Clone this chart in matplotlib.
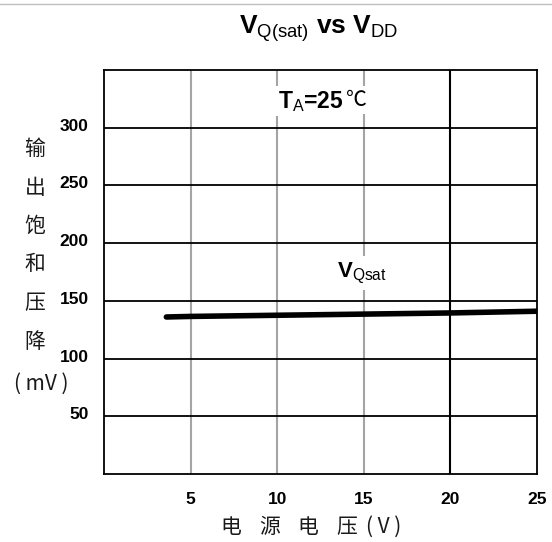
import matplotlib
import matplotlib.pyplot as plt
import matplotlib.transforms as mtransforms
from matplotlib.lines import Line2D

matplotlib.use('Agg')

plt.rcParams['font.family'] = ['Liberation Sans', 'Noto Sans CJK SC', 'DejaVu Sans']
plt.rcParams['mathtext.fontset'] = 'custom'
plt.rcParams['mathtext.rm'] = 'Liberation Sans'
plt.rcParams['mathtext.bf'] = 'Liberation Sans:bold'
plt.rcParams['mathtext.it'] = 'Liberation Sans:italic'

# supply voltage (V) vs output saturation drop (mV)
vdd = [3.6, 5, 10, 15, 20, 25]
vq_sat = [136, 136.5, 137.5, 138.5, 139.5, 141]

x_ticks = [5, 10, 15, 20, 25]
y_ticks = [50, 100, 150, 200, 250, 300]
y_label_chars = ['输', '出', '饱', '和', '压', '降']
x_label_chars = ['电', '源', '电', '压']

fig = plt.figure(figsize=(5.52, 5.42), dpi=100)
ax = fig.add_axes([0.1884, 0.1255, 0.7844, 0.7454])
ax.set_xlim(0, 25)
ax.set_ylim(0, 350)

# grid: grey verticals, black horizontals
for xv in x_ticks[:-1]:
    col = 'black' if xv == 20 else '#a4a4a4'
    ax.axvline(xv, color=col, lw=1.5, zorder=1)
for yv in y_ticks:
    ax.axhline(yv, color='black', lw=1.3, zorder=1)

ax.plot(vdd, vq_sat, color='black', lw=4, solid_capstyle='round', zorder=3)

ax.set_xticks(x_ticks)
ax.set_yticks(y_ticks)
ax.set_xticklabels([str(v) for v in x_ticks], fontweight='bold', fontsize=12.5)
ax.set_yticklabels([str(v) for v in y_ticks], fontweight='bold', fontsize=12.5)
ax.tick_params(axis='x', length=0, pad=13)
ax.tick_params(axis='y', length=0, pad=11)
# y labels sit a touch above their grid lines
lift = mtransforms.ScaledTranslation(0, 3 / 100, fig.dpi_scale_trans)
for lbl in ax.get_yticklabels():
    lbl.set_transform(lbl.get_transform() + lift)
for sp in ax.spines.values():
    sp.set_linewidth(1.3)

ax.text(14.6, 324, '℃', family=['Noto Sans CJK SC', 'DejaVu Sans'], fontsize=15,
        ha='center', va='center', zorder=4,
        bbox=dict(facecolor='white', edgecolor='none', pad=2))
ax.text(10.05, 323, r'$\mathbf{T}_{\mathrm{A}}$=25', fontsize=16.5, fontweight='bold',
        ha='left', va='center', zorder=5,
        bbox=dict(facecolor='white', edgecolor='none', pad=2))
ax.text(14.9, 174, r'$\mathbf{V}_{\mathrm{Qsat}}$', fontsize=16,
        ha='center', va='center', zorder=4,
        bbox=dict(facecolor='white', edgecolor='none', pad=3))

fig.text(0.577, 0.948, r'$\mathbf{V}_{\mathrm{Q(sat)}}\ \mathbf{vs}\ \mathbf{V}_{\mathrm{DD}}$',
         fontsize=19, ha='center', va='center')

cjk = ['Noto Sans CJK SC', 'DejaVu Sans']
for i, ch in enumerate(y_label_chars):
    fig.text(35 / 552, 1 - (149 + i * 38.5) / 542, ch, family=cjk, fontsize=15,
             ha='center', va='center', color='#1a1a1a')
fig.text(41 / 552, 1 - 384 / 542, '( mV )', family=cjk, fontsize=15,
         ha='center', va='center', color='#1a1a1a')

for i, ch in enumerate(x_label_chars):
    fig.text((231 + i * 38.5) / 552, 1 - 527 / 542, ch, family=cjk, fontsize=15,
             ha='center', va='center', color='#1a1a1a')
fig.text(366 / 552, 1 - 527 / 542, '( V )', family=cjk, fontsize=15,
         ha='left', va='center', color='#1a1a1a')

fig.add_artist(Line2D([0, 1], [1 - 4 / 542, 1 - 4 / 542], color='#c0c0c0', lw=1))

fig.savefig('out.png', dpi=100)
